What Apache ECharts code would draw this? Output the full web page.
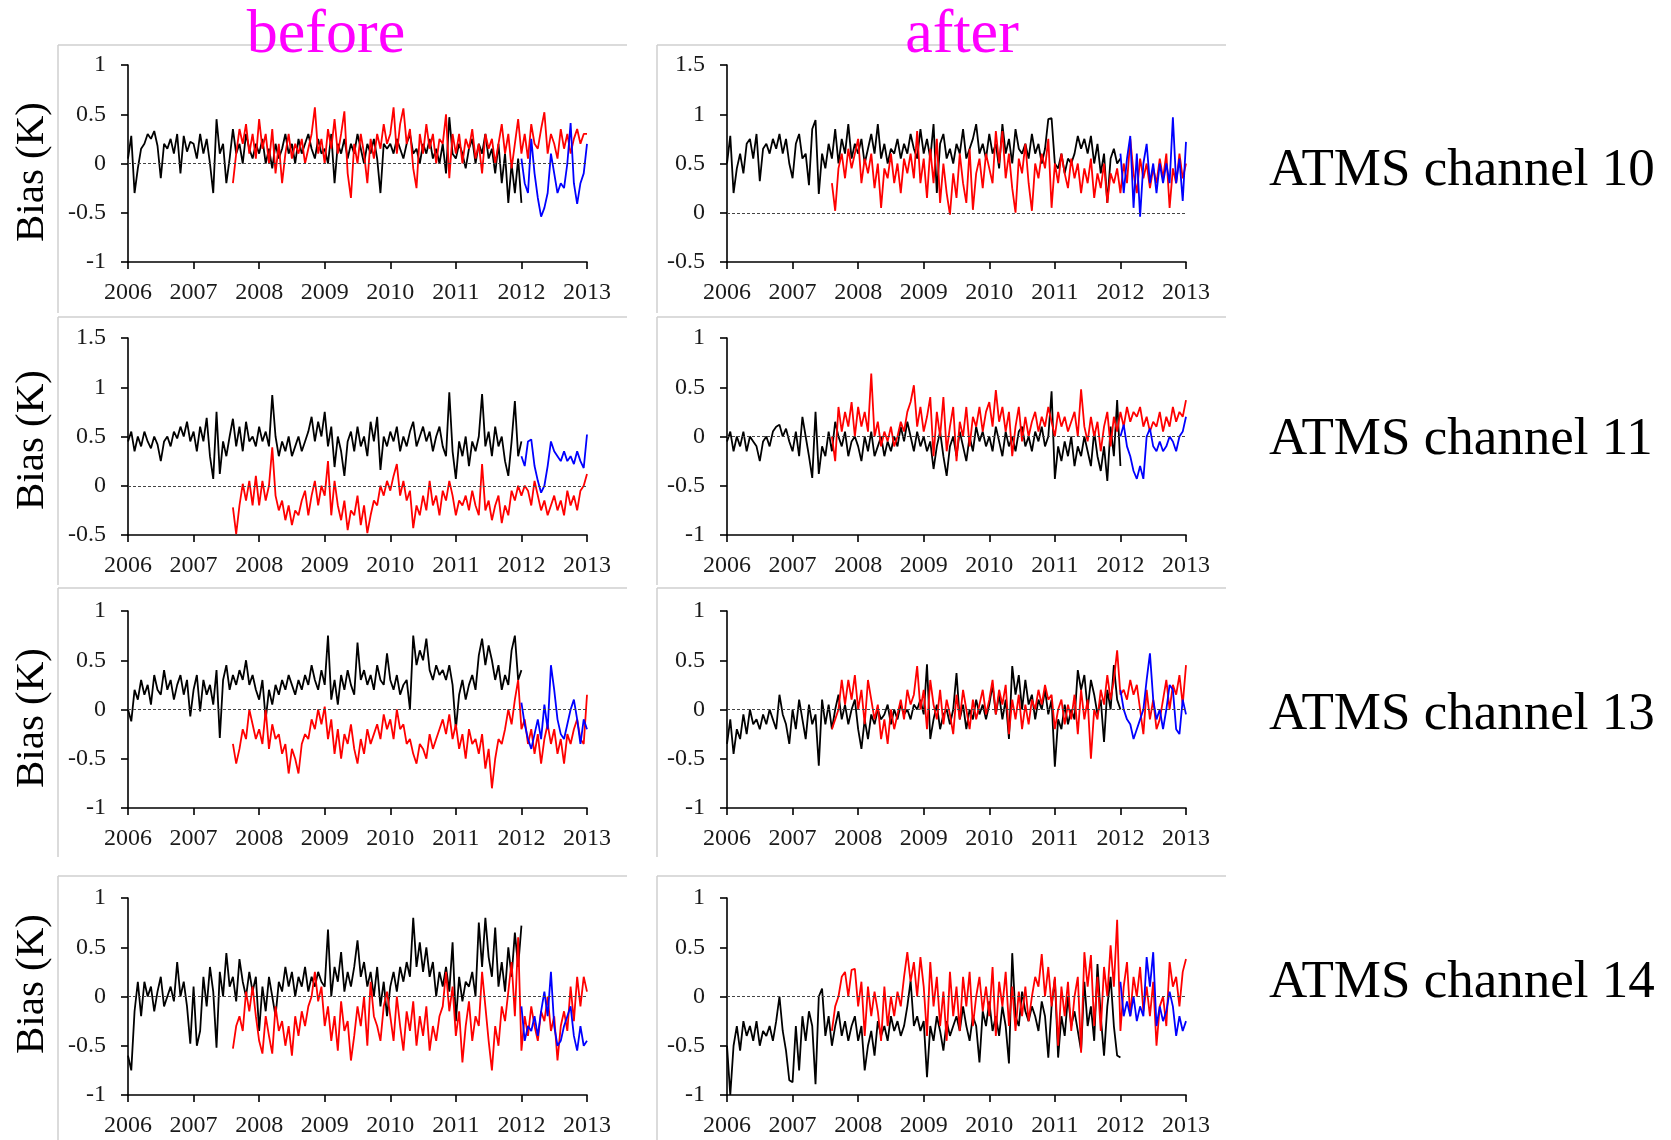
<!DOCTYPE html>
<html>
<head>
<meta charset="utf-8">
<script src="https://cdn.jsdelivr.net/npm/echarts@6/dist/echarts.min.js"></script>
<style>
html, body { margin: 0; padding: 0; background: #fff; }
#chart { width: 1671px; height: 1140px; }
</style>
</head>
<body>
<div id="chart"></div>
<script>
// Weekly-ish bias time series (K), sampled evenly between each series' start and end year.
const yearTicks = [2006, 2007, 2008, 2009, 2010, 2011, 2012, 2013];
const blackSpan = [2006.0, 2012.0];
const redSpan = [2007.6, 2013.0];
const blueSpan = [2012.0, 2013.0];

const columnTitles = ['before', 'after'];
const channelLabels = ['ATMS channel 10', 'ATMS channel 11', 'ATMS channel 13', 'ATMS channel 14'];
const biasLabel = 'Bias (K)';

// y-axis ranges [min, max] per panel
const yRangeCh10Before = [-1, 1];
const yRangeCh10After = [-0.5, 1.5];
const yRangeCh11Before = [-0.5, 1.5];
const yRangeCh11After = [-1, 1];
const yRangeCh13Before = [-1, 1];
const yRangeCh13After = [-1, 1];
const yRangeCh14Before = [-1, 1];
const yRangeCh14After = [-1, 1];

// ---------- ATMS channel 10 ----------
const ch10BeforeBlack = [
  0.05, 0.28, -0.3, -0.05, 0.15, 0.2, 0.3, 0.25, 0.33, 0.18, -0.15, 0.2, 0.15, 0.25, 0.1, 0.3, -0.1, 0.28, 0.12, 0.22,
  0.2, 0.05, 0.3, 0.1, 0.25, 0.0, -0.3, 0.45, 0.1, 0.2, -0.2, 0.05, 0.35, 0.1, 0.2, 0.0, 0.3, 0.15, 0.05, 0.2,
  0.1, 0.25, 0.0, 0.15, -0.05, 0.2, 0.05, 0.15, 0.3, 0.1, 0.2, 0.0, 0.25, 0.1, 0.2, 0.3, 0.15, 0.05, 0.25, 0.1,
  0.15, 0.0, 0.3, -0.2, 0.2, 0.1, 0.25, 0.05, 0.2, 0.1, 0.3, 0.15, 0.0, 0.2, 0.1, 0.25, 0.05, -0.3, 0.2, 0.15,
  0.2, 0.1, 0.25, 0.15, 0.05, 0.2, 0.3, 0.1, 0.15, 0.0, 0.2, 0.1, 0.25, 0.05, 0.15, 0.0, 0.2, -0.1, 0.47, 0.1,
  0.05, 0.2, 0.1, -0.05, 0.15, 0.25, 0.0, 0.2, 0.1, 0.3, 0.05, 0.15, -0.1, 0.2, -0.2, 0.1, -0.4, 0.0, -0.3, 0.05,
  -0.4
];
const ch10BeforeRed = [
  -0.2, 0.1, 0.35, 0.2, 0.4, 0.1, 0.3, 0.05,
  0.45, 0.15, 0.3, 0.0, 0.35, -0.1, 0.2, -0.2, 0.1, 0.3, 0.05, 0.2, 0.1, 0.25, 0.0, 0.15, 0.3, 0.57, 0.1, 0.25,
  0.0, 0.35, 0.15, 0.45, 0.1, 0.3, 0.53, -0.1, -0.35, 0.2, 0.0, 0.3, 0.1, -0.2, 0.25, 0.05, 0.3, 0.15, 0.4, 0.2,
  0.3, 0.57, 0.1, 0.4, 0.56, 0.2, 0.35, -0.05, -0.25, 0.3, 0.1, 0.4, 0.15, 0.3, 0.0, 0.25, 0.2, 0.5, -0.15, 0.3,
  0.1, 0.3, 0.0, 0.25, 0.15, 0.35, 0.05, 0.2, -0.1, 0.3, 0.15, 0.25, 0.0, 0.2, 0.4, 0.1, 0.3, -0.05, 0.2, 0.45,
  0.1, 0.3, 0.05, 0.4, 0.2, 0.15, 0.35, 0.52, 0.1, 0.3, 0.2, 0.05, 0.35, 0.15, 0.3, 0.1, 0.25, 0.35, 0.2, 0.3,
  0.3
];
const ch10BeforeBlue = [0.05, -0.2, -0.3, 0.25, -0.1, -0.35, -0.54, -0.45, -0.3, 0.1, -0.1, -0.3, -0.2, -0.25, 0.0, 0.41, -0.2, -0.41, -0.2, -0.1, 0.2];

const ch10AfterBlack = [
  0.5, 0.78, 0.2, 0.45, 0.6, 0.4, 0.7, 0.75, 0.55, 0.8, 0.32, 0.65, 0.7, 0.6, 0.75, 0.65, 0.8, 0.6, 0.75, 0.5,
  0.35, 0.7, 0.8, 0.55, 0.6, 0.28, 0.85, 0.94, 0.19, 0.6, 0.45, 0.7, 0.55, 0.85, 0.5, 0.75, 0.6, 0.9, 0.55, 0.7,
  0.6, 0.75, 0.5, 0.65, 0.8, 0.6, 0.9, 0.55, 0.7, 0.5, 0.65, 0.6, 0.75, 0.55, 0.7, 0.6, 0.8, 0.65, 0.55, 0.85,
  0.6, 0.75, 0.55, 0.9, 0.2, 0.7, 0.8, 0.55, 0.65, 0.5, 0.7, 0.6, 0.85, 0.55, 0.65, 0.75, 0.9, 0.6, 0.7, 0.55,
  0.8, 0.6, 0.7, 0.45, 0.9, 0.6, 0.75, 0.5, 0.85, 0.65, 0.6, 0.7, 0.55, 0.8, 0.6, 0.7, 0.5, 0.65, 0.95, 0.96,
  0.5, 0.45, 0.6, 0.4, 0.55, 0.5, 0.6, 0.78, 0.65, 0.75, 0.6, 0.78, 0.5, 0.7, 0.4, 0.6, 0.1, 0.55, 0.65, 0.5,
  0.55
];
const ch10AfterRed = [
  0.3, 0.02, 0.45, 0.6, 0.35, 0.65, 0.45, 0.6,
  0.75, 0.3, 0.55, 0.4, 0.6, 0.25, 0.5, 0.05, 0.45, 0.35, 0.6, 0.3, 0.5, 0.2, 0.55, 0.4, 0.6, 0.35, 0.83, 0.3,
  0.55, 0.15, 0.65, 0.3, 0.75, 0.1, 0.5, 0.2, -0.02, 0.4, 0.15, 0.6, 0.3, 0.1, 0.65, 0.03, 0.4, 0.55, 0.25, 0.6,
  0.45, 0.3, 0.83, 0.5, 0.83, 0.35, 0.6, 0.25, 0.0, 0.55, 0.4, 0.7, 0.3, 0.02, 0.5, 0.35, 0.6, 0.45, 0.75, 0.05,
  0.5, 0.3, 0.6, 0.4, 0.25, 0.55, 0.35, 0.5, 0.2, 0.45, 0.3, 0.55, 0.15, 0.4, 0.25, 0.5, 0.1, 0.4, 0.3, 0.45,
  0.2, 0.5, 0.3, 0.75, 0.4, 0.2, 0.55, 0.35, 0.5, 0.25, 0.45, 0.3, 0.55, 0.35, 0.6, 0.05, 0.45, 0.3, 0.6, 0.35,
  0.5
];
const ch10AfterBlue = [0.6, 0.2, 0.55, 0.78, 0.05, 0.6, -0.04, 0.5, 0.7, 0.3, 0.5, 0.2, 0.5, 0.3, 0.5, 0.3, 0.97, 0.3, 0.55, 0.12, 0.72];

// ---------- ATMS channel 11 ----------
const ch11BeforeBlack = [
  0.45, 0.55, 0.35, 0.5, 0.4, 0.55, 0.45, 0.38, 0.5, 0.42, 0.25, 0.45, 0.5, 0.4, 0.55, 0.48, 0.6, 0.5, 0.65, 0.45,
  0.55, 0.35, 0.6, 0.45, 0.69, 0.3, 0.07, 0.75, 0.12, 0.45, 0.3, 0.5, 0.68, 0.4, 0.6, 0.35, 0.65, 0.45, 0.5, 0.4,
  0.6, 0.45, 0.55, 0.4, 0.92, 0.5, 0.3, 0.45, 0.35, 0.5, 0.3, 0.4, 0.5, 0.35, 0.45, 0.55, 0.7, 0.45, 0.65, 0.5,
  0.75, 0.4, 0.6, 0.19, 0.5, 0.35, 0.1, 0.45, 0.55, 0.35, 0.6, 0.4, 0.5, 0.3, 0.65, 0.45, 0.7, 0.16, 0.5, 0.4,
  0.55, 0.45, 0.6, 0.35, 0.5, 0.4, 0.55, 0.65, 0.4, 0.5, 0.6, 0.45, 0.55, 0.35, 0.5, 0.6, 0.4, 0.3, 0.95, 0.35,
  0.07, 0.45, 0.3, 0.5, 0.2, 0.45, 0.35, 0.5, 0.93, 0.4, 0.55, 0.3, 0.6, 0.4, 0.5, 0.25, 0.1, 0.45, 0.86, 0.3,
  0.45
];
const ch11BeforeRed = [
  -0.22, -0.49, -0.2, 0.02, -0.15, 0.05, -0.2, 0.1,
  -0.2, 0.05, -0.15, 0.0, 0.39, -0.1, -0.25, -0.15, -0.35, -0.2, -0.4, -0.25, -0.3, -0.15, -0.05, -0.3, -0.1, 0.05, -0.2, 0.0,
  -0.1, 0.25, -0.3, 0.05, -0.2, -0.35, -0.15, -0.45, -0.25, -0.3, -0.1, -0.4, -0.2, -0.48, -0.3, -0.15, -0.2, 0.0, -0.1, 0.05,
  -0.05, 0.1, 0.22, -0.1, 0.05, -0.15, -0.05, -0.43, -0.2, -0.3, -0.1, -0.25, 0.05, -0.2, -0.1, -0.3, -0.05, -0.15, 0.05, -0.1,
  -0.3, -0.15, -0.2, -0.1, -0.25, -0.05, -0.2, -0.3, 0.22, -0.25, -0.15, -0.35, -0.2, -0.1, -0.38, -0.2, -0.3, -0.05, -0.15, 0.0,
  -0.1, 0.0, -0.05, -0.2, 0.05, -0.1, -0.25, -0.15, -0.3, -0.2, -0.1, -0.25, -0.15, -0.3, -0.05, -0.2, -0.1, -0.25, -0.05, 0.0,
  0.12
];
const ch11BeforeBlue = [0.3, 0.2, 0.45, 0.47, 0.2, 0.05, -0.07, 0.0, 0.2, 0.45, 0.35, 0.3, 0.25, 0.35, 0.25, 0.3, 0.22, 0.35, 0.25, 0.18, 0.52];

const ch11AfterBlack = [
  -0.05, 0.05, -0.15, 0.0, -0.1, 0.05, -0.15, 0.0, -0.05, -0.1, -0.25, -0.05, 0.0, -0.1, 0.05, 0.1, 0.12, 0.0, 0.08, -0.05,
  -0.15, 0.05, -0.2, 0.2, 0.0, -0.2, -0.42, 0.25, -0.38, -0.1, -0.2, 0.05, -0.15, 0.15, 0.0, -0.1, 0.05, -0.2, -0.05, 0.0,
  -0.1, -0.25, 0.0, -0.15, 0.05, -0.2, -0.1, 0.0, -0.2, -0.05, -0.15, 0.0, -0.1, 0.1, -0.05, 0.15, 0.0, -0.15, 0.05, -0.1,
  0.0, -0.15, -0.05, -0.33, -0.1, 0.05, -0.2, -0.4, -0.1, 0.0, -0.2, 0.05, -0.1, -0.25, 0.0, -0.15, 0.1, -0.05, 0.05, -0.1,
  0.0, -0.15, 0.1, -0.05, -0.2, 0.05, -0.1, 0.0, -0.15, 0.05, 0.1, -0.1, 0.0, -0.15, 0.05, -0.05, 0.1, -0.1, 0.0, 0.46,
  -0.43, -0.1, -0.25, -0.05, -0.2, 0.0, -0.3, -0.1, -0.2, 0.0, -0.15, -0.3, 0.05, -0.2, -0.35, -0.1, -0.45, 0.1, -0.2, 0.37,
  -0.3
];
const ch11AfterRed = [
  0.0, -0.25, 0.3, 0.05, 0.25, 0.1, 0.35, 0.0,
  0.3, 0.1, 0.25, 0.05, 0.64, 0.0, 0.15, -0.1, 0.05, -0.05, 0.1, -0.1, 0.0, 0.15, 0.05, 0.25, 0.35, 0.52, 0.1, 0.3,
  0.05, 0.2, 0.4, -0.2, 0.25, 0.0, 0.4, -0.15, 0.1, 0.3, -0.25, 0.15, 0.0, 0.3, -0.1, 0.2, 0.1, 0.3, 0.05, 0.25,
  0.35, 0.1, 0.47, 0.15, 0.3, 0.05, 0.25, -0.2, 0.1, 0.3, -0.05, 0.2, 0.0, 0.15, 0.25, 0.05, 0.2, 0.1, 0.3, 0.15,
  0.0, 0.25, 0.1, 0.2, 0.05, 0.15, 0.25, 0.0, 0.48, 0.1, -0.05, 0.2, 0.0, 0.15, -0.15, 0.1, 0.25, -0.1, 0.2, 0.05,
  0.25, 0.1, 0.3, 0.15, 0.25, 0.2, 0.3, 0.1, 0.2, 0.05, 0.15, 0.1, 0.25, 0.05, 0.2, 0.1, 0.3, 0.15, 0.25, 0.2,
  0.37
];
const ch11AfterBlue = [0.0, 0.12, -0.1, -0.2, -0.35, -0.43, -0.3, -0.43, 0.0, 0.08, -0.1, -0.15, -0.05, -0.15, -0.1, 0.0, -0.05, -0.15, 0.0, 0.05, 0.2];

// ---------- ATMS channel 13 ----------
const ch13BeforeBlack = [
  0.0, -0.12, 0.2, 0.1, 0.3, 0.15, 0.25, 0.05, 0.35, 0.2, 0.15, 0.4, 0.2, 0.3, 0.1, 0.25, 0.35, 0.15, 0.3, -0.07,
  0.2, 0.35, -0.02, 0.3, 0.15, 0.25, 0.05, 0.4, -0.29, 0.3, 0.45, 0.2, 0.35, 0.25, 0.4, 0.3, 0.5, 0.25, 0.35, 0.2,
  0.1, 0.3, -0.1, 0.2, 0.05, 0.25, 0.15, 0.3, 0.2, 0.35, 0.25, 0.15, 0.3, 0.2, 0.35, 0.25, 0.45, 0.3, 0.2, 0.4,
  0.25, 0.75, 0.1, 0.3, 0.05, 0.35, 0.2, 0.4, 0.25, 0.15, 0.68, 0.3, 0.4, 0.25, 0.35, 0.2, 0.45, 0.3, 0.25, 0.57,
  0.3, 0.2, 0.35, 0.15, 0.25, 0.3, 0.0, 0.75, 0.45, 0.6, 0.5, 0.72, 0.4, 0.3, 0.45, 0.35, 0.4, 0.3, 0.45, 0.25,
  -0.2, 0.15, 0.3, 0.1, 0.25, 0.35, 0.2, 0.55, 0.72, 0.45, 0.65, 0.5, 0.3, 0.45, 0.2, 0.35, 0.25, 0.6, 0.75, 0.3,
  0.4
];
const ch13BeforeRed = [
  -0.35, -0.55, -0.4, -0.2, -0.3, 0.0, -0.15, -0.3,
  -0.2, -0.35, 0.0, -0.4, -0.15, -0.3, -0.25, -0.45, -0.35, -0.65, -0.4, -0.5, -0.65, -0.35, -0.25, -0.3, -0.1, -0.2, 0.0, -0.15,
  0.03, -0.3, -0.1, -0.45, -0.2, -0.5, -0.25, -0.35, -0.15, -0.4, -0.55, -0.3, -0.45, -0.2, -0.35, -0.25, -0.15, -0.3, -0.05, -0.2,
  -0.1, -0.3, 0.0, -0.2, -0.15, -0.35, -0.3, -0.45, -0.55, -0.35, -0.4, -0.5, -0.25, -0.4, -0.3, -0.2, -0.1, -0.25, -0.05, -0.3,
  -0.15, -0.4, -0.25, -0.5, -0.2, -0.35, -0.3, -0.45, -0.25, -0.6, -0.4, -0.8, -0.5, -0.3, -0.35, -0.2, 0.0, -0.15, 0.1, 0.3,
  -0.2, -0.1, -0.35, -0.2, -0.45, -0.25, -0.55, -0.3, -0.15, -0.35, -0.2, -0.45, -0.3, -0.55, -0.25, -0.35, -0.2, -0.1, -0.3, -0.35,
  0.15
];
const ch13BeforeBlue = [0.07, -0.15, -0.3, -0.4, -0.25, -0.1, -0.3, 0.05, -0.2, 0.45, 0.2, -0.1, -0.25, -0.3, -0.15, 0.0, 0.1, -0.1, -0.35, -0.1, -0.2];

const ch13AfterBlack = [
  -0.35, -0.1, -0.45, -0.2, -0.3, -0.05, -0.25, 0.0, -0.15, -0.1, -0.2, -0.05, -0.15, 0.0, -0.1, -0.2, 0.15, -0.05, -0.15, -0.35,
  0.0, -0.2, 0.1, -0.1, -0.3, 0.05, -0.15, -0.05, -0.57, 0.1, -0.15, 0.05, -0.2, 0.0, 0.15, -0.1, 0.05, -0.15, 0.0, 0.1,
  -0.2, -0.4, -0.1, -0.3, -0.05, -0.15, 0.0, -0.1, -0.05, 0.05, -0.15, 0.0, -0.1, 0.05, -0.05, 0.0, -0.1, 0.05, 0.0, 0.1,
  -0.05, 0.46, -0.3, -0.1, 0.05, -0.2, -0.05, 0.0, -0.15, 0.0, 0.37, -0.1, 0.05, -0.2, 0.0, -0.1, 0.1, -0.05, 0.05, -0.1,
  0.05, 0.25, -0.05, 0.15, -0.1, 0.1, -0.3, 0.44, 0.15, 0.35, 0.0, 0.3, 0.05, 0.15, -0.1, 0.1, 0.0, 0.2, -0.05, 0.1,
  -0.58, -0.1, -0.2, 0.05, -0.15, 0.0, -0.1, 0.4, 0.2, 0.35, 0.0, 0.3, 0.15, -0.05, 0.1, -0.33, 0.2, 0.0, 0.45, 0.1,
  0.0
];
const ch13AfterRed = [
  -0.2, -0.1, 0.0, 0.3, 0.05, 0.3, 0.1, 0.35,
  0.0, 0.2, -0.15, 0.3, 0.1, -0.1, 0.05, -0.3, -0.1, -0.35, 0.0, -0.2, -0.05, 0.1, -0.1, 0.2, 0.05, 0.15, 0.44, 0.0,
  0.2, -0.2, 0.3, 0.05, -0.1, 0.2, -0.15, 0.1, -0.05, -0.25, 0.15, -0.1, 0.2, 0.0, -0.2, 0.1, -0.1, 0.05, 0.2, -0.05,
  0.1, 0.3, -0.05, 0.2, 0.05, 0.25, -0.25, 0.1, -0.1, 0.15, -0.2, 0.05, -0.15, 0.1, 0.0, 0.2, 0.05, 0.25, 0.1, 0.15,
  -0.2, 0.0, 0.1, -0.15, 0.05, -0.1, 0.15, -0.25, 0.2, -0.1, 0.1, -0.5, 0.0, -0.1, 0.2, 0.05, 0.35, 0.1, 0.3, 0.6,
  0.15, 0.2, 0.1, 0.3, 0.15, 0.25, 0.0, -0.25, 0.2, -0.1, 0.1, -0.2, -0.1, 0.1, 0.3, 0.0, 0.25, 0.15, 0.35, 0.05,
  0.45
];
const ch13AfterBlue = [0.2, 0.0, -0.1, -0.15, -0.3, -0.2, -0.1, 0.0, 0.3, 0.57, 0.1, -0.1, 0.0, -0.2, 0.0, 0.25, 0.2, -0.2, -0.25, 0.1, -0.05];

// ---------- ATMS channel 14 ----------
const ch14BeforeBlack = [
  -0.6, -0.75, -0.15, 0.15, -0.2, 0.15, 0.0, 0.1, -0.15, 0.05, 0.2, -0.1, 0.0, 0.1, -0.05, 0.35, 0.0, 0.15, -0.1, -0.48,
  0.1, -0.5, -0.35, 0.2, -0.1, 0.3, 0.05, -0.52, 0.25, 0.0, 0.44, 0.1, 0.2, -0.05, 0.38, 0.15, 0.0, 0.25, 0.05, 0.2,
  -0.35, 0.1, -0.15, 0.2, 0.0, -0.2, 0.15, 0.05, 0.3, 0.1, 0.25, 0.0, 0.2, 0.1, 0.3, 0.05, 0.2, 0.1, 0.25, 0.15,
  0.1, 0.68, 0.0, 0.3, 0.15, 0.45, 0.05, 0.25, 0.1, 0.3, 0.57, 0.2, 0.35, 0.1, 0.25, 0.0, 0.3, -0.1, 0.15, -0.2,
  0.1, 0.25, 0.05, 0.3, 0.15, 0.35, 0.2, 0.8, 0.3, 0.55, 0.25, 0.5, 0.2, 0.35, 0.0, 0.25, 0.1, 0.3, 0.05, 0.55,
  -0.25, 0.2, -0.05, 0.15, 0.1, 0.25, 0.0, 0.75, 0.3, 0.8, 0.4, 0.2, 0.7, 0.1, 0.35, 0.05, 0.5, 0.2, 0.65, 0.3,
  0.72
];
const ch14BeforeRed = [
  -0.53, -0.3, -0.2, -0.35, 0.05, -0.15, 0.1, -0.2,
  -0.45, -0.58, -0.2, -0.4, -0.58, -0.1, -0.35, -0.25, -0.5, -0.3, -0.6, -0.2, -0.4, -0.15, -0.3, -0.1, 0.0, 0.25, -0.05, 0.1,
  -0.3, -0.1, -0.45, -0.2, -0.55, -0.05, -0.35, -0.25, -0.65, -0.4, -0.1, -0.3, 0.0, -0.5, 0.15, -0.2, -0.3, -0.45, -0.1, 0.05,
  -0.2, -0.45, 0.0, -0.3, -0.55, -0.15, -0.35, -0.05, -0.5, -0.2, -0.4, -0.1, -0.55, -0.3, -0.45, -0.2, -0.1, 0.25, -0.15, 0.1,
  -0.4, -0.15, -0.67, -0.3, -0.05, -0.45, -0.2, -0.3, 0.25, -0.1, -0.45, -0.75, -0.3, -0.5, -0.1, -0.25, 0.05, 0.35, -0.2, 0.6,
  -0.55, -0.2, -0.4, -0.1, -0.3, -0.45, -0.15, -0.25, 0.0, -0.35, -0.2, -0.65, -0.3, -0.15, -0.35, 0.1, -0.25, 0.2, -0.1, 0.2,
  0.05
];
const ch14BeforeBlue = [-0.1, -0.45, -0.3, -0.35, -0.2, -0.4, -0.15, 0.05, -0.2, 0.25, -0.3, -0.5, -0.45, -0.3, -0.2, -0.1, -0.4, -0.55, -0.3, -0.5, -0.45];

const ch14AfterBlack = [
  -0.5, -1.0, -0.5, -0.3, -0.55, -0.25, -0.4, -0.3, -0.45, -0.25, -0.5, -0.35, -0.4, -0.3, -0.45, -0.25, 0.0, -0.35, -0.55, -0.85,
  -0.87, -0.3, -0.75, -0.2, -0.45, -0.15, -0.3, -0.89, 0.0, 0.08, -0.4, -0.2, -0.5, -0.3, -0.15, -0.4, -0.25, -0.45, -0.3, -0.2,
  -0.45, -0.3, -0.75, -0.5, -0.35, -0.6, -0.25, -0.4, -0.3, -0.45, -0.2, -0.35, -0.25, -0.4, -0.3, -0.1, 0.16, -0.3, -0.2, -0.35,
  -0.25, -0.82, -0.3, -0.45, -0.2, -0.35, -0.55, -0.25, -0.4, -0.3, -0.2, -0.35, -0.1, -0.3, -0.45, -0.2, -0.3, -0.67, -0.15, -0.3,
  -0.05, -0.35, -0.2, -0.4, -0.1, -0.3, -0.68, 0.44, -0.2, -0.3, 0.05, -0.15, -0.25, -0.1, -0.2, -0.35, -0.05, -0.2, -0.62, -0.1,
  0.18, -0.62, -0.2, -0.4, 0.0, -0.3, -0.15, -0.35, -0.55, 0.15, -0.3, -0.1, -0.45, 0.33, -0.2, -0.6, -0.1, 0.2, -0.3, -0.6,
  -0.62
];
const ch14AfterRed = [
  -0.35, -0.1, 0.0, 0.2, 0.25, 0.0, 0.27, 0.28,
  -0.1, 0.15, -0.4, 0.1, -0.2, 0.05, -0.15, -0.45, 0.1, -0.3, 0.0, -0.2, 0.05, -0.1, 0.2, 0.45, 0.15, 0.35, 0.0, 0.4,
  0.1, -0.4, 0.35, -0.1, 0.2, -0.3, 0.05, -0.45, 0.25, -0.2, 0.1, -0.35, 0.2, -0.1, 0.25, -0.3, 0.0, 0.2, -0.15, 0.1,
  -0.2, 0.3, -0.4, 0.15, -0.1, 0.25, -0.3, 0.1, -0.35, 0.05, -0.2, 0.1, -0.25, 0.0, 0.2, 0.1, 0.43, 0.0, 0.3, -0.1,
  0.2, -0.5, 0.1, -0.2, 0.15, -0.35, 0.0, 0.2, -0.57, 0.45, 0.1, 0.42, -0.3, 0.2, -0.35, 0.3, 0.0, 0.52, 0.1, 0.78,
  -0.35, 0.1, 0.35, -0.2, 0.2, 0.0, 0.3, -0.15, 0.1, -0.2, 0.15, -0.5, -0.1, 0.0, -0.3, 0.35, 0.1, 0.2, -0.1, 0.25,
  0.38
];
const ch14AfterBlue = [0.15, -0.2, -0.05, -0.2, 0.0, -0.25, -0.1, -0.2, 0.4, 0.1, 0.45, -0.3, -0.1, -0.25, -0.15, 0.05, -0.1, -0.4, -0.2, -0.35, -0.25];

// Panel table: row = channel, col 0 = before, col 1 = after
const panels = [
  { row: 0, col: 0, range: yRangeCh10Before, black: ch10BeforeBlack, red: ch10BeforeRed, blue: ch10BeforeBlue },
  { row: 0, col: 1, range: yRangeCh10After,  black: ch10AfterBlack,  red: ch10AfterRed,  blue: ch10AfterBlue },
  { row: 1, col: 0, range: yRangeCh11Before, black: ch11BeforeBlack, red: ch11BeforeRed, blue: ch11BeforeBlue },
  { row: 1, col: 1, range: yRangeCh11After,  black: ch11AfterBlack,  red: ch11AfterRed,  blue: ch11AfterBlue },
  { row: 2, col: 0, range: yRangeCh13Before, black: ch13BeforeBlack, red: ch13BeforeRed, blue: ch13BeforeBlue },
  { row: 2, col: 1, range: yRangeCh13After,  black: ch13AfterBlack,  red: ch13AfterRed,  blue: ch13AfterBlue },
  { row: 3, col: 0, range: yRangeCh14Before, black: ch14BeforeBlack, red: ch14BeforeRed, blue: ch14BeforeBlue },
  { row: 3, col: 1, range: yRangeCh14After,  black: ch14AfterBlack,  red: ch14AfterRed,  blue: ch14AfterBlue }
];

// Layout (pixels)
const gridLefts = [128, 727];
const gridWidth = 459;
const gridTops = [65, 338, 611, 898];
const gridHeight = 197;
const frameLefts = [58, 657];
const frameRights = [627, 1226];
const frameTops = [45, 317, 588, 876];
const frameBottoms = [313, 585, 857, 1140];
const titleCenters = [326, 962];
const channelLabelY = [171, 440, 715, 983];
const biasLabelY = [172, 440, 718, 984];

const FONT = '"Liberation Serif", "Times New Roman", serif';

function toPoints(span, vals) {
  const n = vals.length;
  return vals.map((v, i) => [span[0] + (span[1] - span[0]) * i / (n - 1), v]);
}

const grid = [], xAxis = [], yAxis = [], series = [];
panels.forEach((p, k) => {
  grid.push({ left: gridLefts[p.col], top: gridTops[p.row], width: gridWidth, height: gridHeight });
  xAxis.push({
    gridIndex: k, type: 'value', min: yearTicks[0], max: yearTicks[yearTicks.length - 1], interval: 1,
    axisLine: { show: true, onZero: false, lineStyle: { color: '#000', width: 1.6 } },
    axisTick: { show: true, length: 7, lineStyle: { color: '#000', width: 1.6 } },
    axisLabel: { formatter: v => String(v), fontFamily: FONT, fontSize: 24, color: '#1a1a1a', margin: 19 },
    splitLine: { show: false }
  });
  yAxis.push({
    gridIndex: k, type: 'value', min: p.range[0], max: p.range[1], interval: 0.5,
    axisLine: { show: true, onZero: false, lineStyle: { color: '#000', width: 1.6 } },
    axisTick: { show: true, length: 7, lineStyle: { color: '#000', width: 1.6 } },
    axisLabel: { fontFamily: FONT, fontSize: 24, color: '#1a1a1a', margin: 22 },
    splitLine: { show: false }
  });
  const common = { type: 'line', xAxisIndex: k, yAxisIndex: k, showSymbol: false, symbol: 'none', silent: true };
  series.push(Object.assign({}, common, {
    data: toPoints(blackSpan, p.black),
    lineStyle: { color: '#000', width: 1.8 },
    markLine: {
      silent: true, symbol: 'none', label: { show: false },
      lineStyle: { type: [3, 2], color: '#444', width: 1 },
      data: [{ yAxis: 0 }]
    }
  }));
  series.push(Object.assign({}, common, { data: toPoints(redSpan, p.red), lineStyle: { color: '#ff0000', width: 1.8 } }));
  series.push(Object.assign({}, common, { data: toPoints(blueSpan, p.blue), lineStyle: { color: '#0000ff', width: 1.8 } }));
});

const graphic = [];
// light frame edges (left and top) around each panel
for (let r = 0; r < 4; r++) {
  for (let c = 0; c < 2; c++) {
    graphic.push({ type: 'line', silent: true, shape: { x1: frameLefts[c], y1: frameTops[r], x2: frameRights[c], y2: frameTops[r] },
      style: { stroke: '#cfcfcf', lineWidth: 1.5 } });
    graphic.push({ type: 'line', silent: true, shape: { x1: frameLefts[c], y1: frameTops[r], x2: frameLefts[c], y2: frameBottoms[r] },
      style: { stroke: '#cfcfcf', lineWidth: 1.5 } });
  }
}
columnTitles.forEach((t, c) => {
  graphic.push({ type: 'text', silent: true, x: titleCenters[c], y: 36, z: 10,
    style: { text: t, fill: '#ff00ff', fontFamily: FONT, fontSize: 62, align: 'center', verticalAlign: 'middle' } });
});
channelLabels.forEach((t, r) => {
  graphic.push({ type: 'text', silent: true, x: 1269, y: channelLabelY[r],
    style: { text: t, fill: '#000', fontFamily: FONT, fontSize: 53, align: 'left', verticalAlign: 'middle' } });
  graphic.push({ type: 'text', silent: true, x: 32, y: biasLabelY[r], rotation: Math.PI / 2,
    style: { text: biasLabel, fill: '#000', fontFamily: FONT, fontSize: 41, align: 'center', verticalAlign: 'middle' } });
});

const chart = echarts.init(document.getElementById('chart'), null, { renderer: 'canvas' });
chart.setOption({ animation: false, backgroundColor: '#fff', grid, xAxis, yAxis, series, graphic });
</script>
</body>
</html>
